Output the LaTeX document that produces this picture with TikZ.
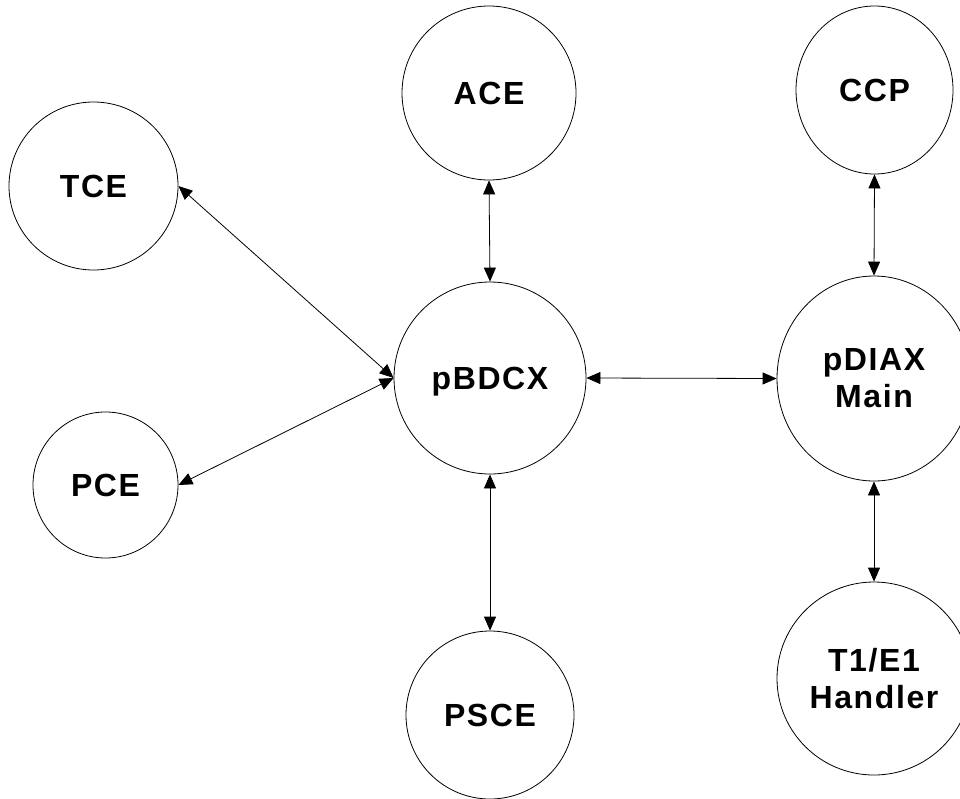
\documentclass[tikz,border=0pt]{standalone}
\usepackage{fontspec}
\setmainfont{Liberation Sans}
\usetikzlibrary{shapes.geometric,arrows.meta}
\begin{document}
\begin{tikzpicture}[x=1pt,y=-1pt,
  proc/.style={draw=black,line width=0.8pt,ellipse,inner sep=0pt,align=center,
    font=\fontsize{32}{37}\selectfont\bfseries\addfontfeature{LetterSpace=5}},
  link/.style={draw=black,line width=0.8pt,{Triangle[length=14pt,width=12pt]}-{Triangle[length=14pt,width=12pt]}}]
\useasboundingbox (0,0) rectangle (960,798);
\node[proc,minimum width=169pt,minimum height=168pt] (TCE) at (93.5,186) {TCE};
\node[proc,minimum width=145pt,minimum height=146pt] (PCE) at (105.5,485) {PCE};
\node[proc,minimum width=174pt,minimum height=174pt] (ACE) at (489,93) {ACE};
\node[proc,minimum width=192pt,minimum height=192pt,text depth=0pt] (pBDCX) at (490,378) {pBDCX};
\node[proc,minimum width=168pt,minimum height=168pt] (PSCE) at (490,715) {PSCE};
\node[proc,minimum width=157pt,minimum height=168pt] (CCP) at (874.5,90) {CCP};
\node[proc,minimum width=194pt,minimum height=205pt] (pDIAX) at (874,378.5) {pDIAX\\Main};
\node[proc,minimum width=194pt,minimum height=193pt] (T1E1) at (874,678.5) {T1/E1\\Handler};
\draw[link] (TCE.east) -- (pBDCX.west);
\draw[link] (PCE.east) -- (pBDCX.west);
\draw[link] (ACE.south) -- (pBDCX.north);
\draw[link] (pBDCX.south) -- (PSCE.north);
\draw[link] (pBDCX.east) -- (pDIAX.west);
\draw[link] (CCP.south) -- (pDIAX.north);
\draw[link] (pDIAX.south) -- (T1E1.north);
\end{tikzpicture}
\end{document}
